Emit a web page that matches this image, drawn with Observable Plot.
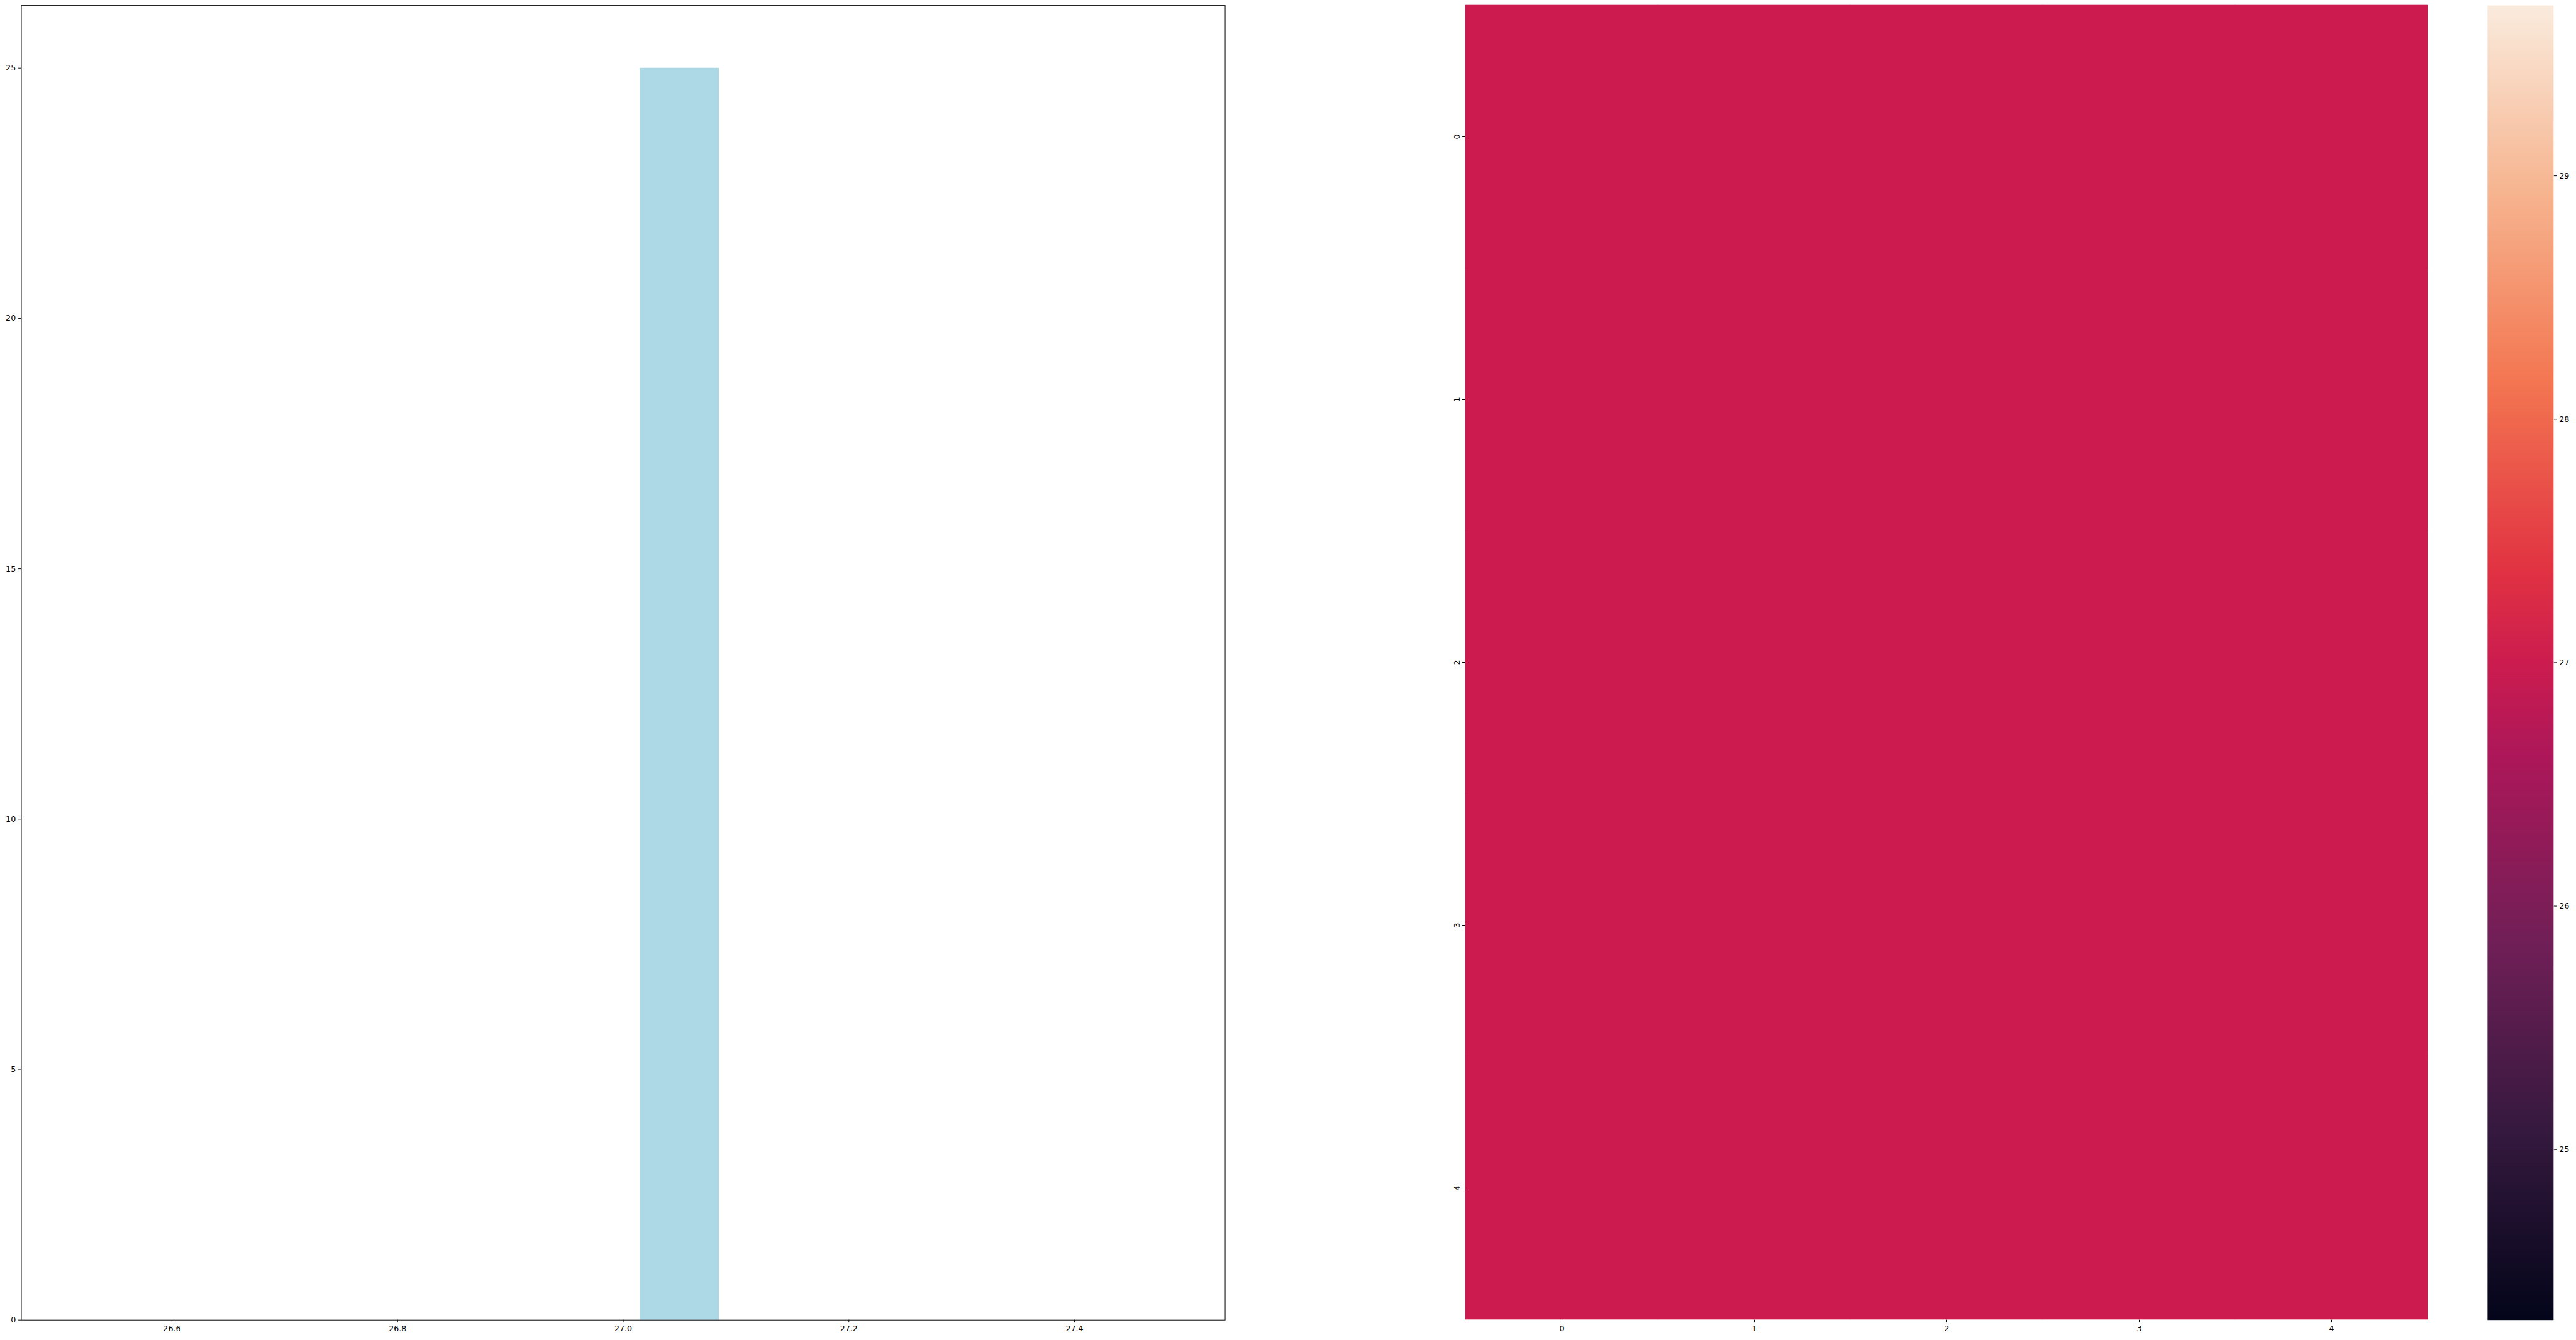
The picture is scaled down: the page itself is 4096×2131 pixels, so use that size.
<!DOCTYPE html>
<html><head><meta charset="utf-8">
<script src="https://cdn.jsdelivr.net/npm/d3@7"></script>
<script src="https://cdn.jsdelivr.net/npm/@observablehq/plot@0.6"></script>
<style>
html,body{margin:0;padding:0;background:#fff;}
#chart{position:relative;width:4096px;height:2131px;overflow:hidden;background:#fff;}
#chart > svg{position:absolute;top:0;}
</style></head><body><div id="chart"></div>
<script>
// ---- Left panel: histogram ----
const binStarts = [26.5, 26.6, 26.7, 26.8, 26.9, 27.0, 27.1, 27.2, 27.3, 27.4];
const binCounts = [0, 0, 0, 0, 0, 25, 0, 0, 0, 0];
const binWidth = 0.1;
const histXDomain = [26.4665, 27.5335];
const histYDomain = [0, 26.25];
const histXTicks = [26.6, 26.8, 27.0, 27.2, 27.4];
const histYTicks = [0, 5, 10, 15, 20, 25];

// ---- Right panel: heatmap ----
const heatRows = [0, 1, 2, 3, 4];
const heatCols = [0, 1, 2, 3, 4];
const heatValues = [
  [27, 27, 27, 27, 27],
  [27, 27, 27, 27, 27],
  [27, 27, 27, 27, 27],
  [27, 27, 27, 27, 27],
  [27, 27, 27, 27, 27]
];
const colorDomain = [24.3, 29.7];
const colorbarTicks = [25, 26, 27, 28, 29];
const rocketStops = [0, 0.143, 0.286, 0.429, 0.5, 0.571, 0.714, 0.857, 1];
const rocketColors = ["#03051a", "#35193e", "#701f57", "#ad1759", "#cc1c4f", "#e13342", "#f37651", "#f6b48f", "#faebdd"];

const S = 0.905;
const FONT = 14 * S;
const TICK = 4.86 * S;
const PAD = 4.86 * S;
const H = 2131;
const mTop = 9 * S, mBottom = H - 2319 * S;
const baseStyle = {fontFamily: "DejaVu Sans", fontSize: FONT + "px", color: "black", background: "transparent", overflow: "visible"};
const chart = document.getElementById("chart");

function place(svg, left) {
  svg.style.left = left + "px";
  chart.appendChild(svg);
}

// Histogram
const rwidth = 0.7;
const bins = binStarts.map((s, i) => ({start: s, count: binCounts[i]}));
const histLeft = 0, histW = 1980;
const hist = Plot.plot({
  width: histW, height: H,
  marginLeft: 37 * S - histLeft, marginRight: histW - 2152 * S,
  marginTop: mTop, marginBottom: mBottom,
  style: baseStyle,
  x: {type: "linear", domain: histXDomain, label: null},
  y: {type: "linear", domain: histYDomain, label: null},
  marks: [
    Plot.rectY(bins, {
      x1: d => d.start + binWidth * (1 - rwidth) / 2,
      x2: d => d.start + binWidth * (1 + rwidth) / 2,
      y1: 0, y2: "count", fill: "#add8e6", inset: 0
    }),
    Plot.frame({stroke: "black", strokeWidth: 1}),
    Plot.axisX({ticks: histXTicks, tickFormat: d3.format(".1f"), tickSize: TICK, tickPadding: PAD, strokeWidth: 1, label: null}),
    Plot.axisY({ticks: histYTicks, tickFormat: d3.format("d"), tickSize: TICK, tickPadding: PAD, strokeWidth: 1, label: null})
  ]
});
place(hist, histLeft);

// Heatmap
const cells = heatRows.flatMap((r, i) => heatCols.map((c, j) => ({row: r, col: c, value: heatValues[i][j]})));
const colorScale = {
  type: "linear",
  domain: rocketStops.map(t => colorDomain[0] + t * (colorDomain[1] - colorDomain[0])),
  range: rocketColors,
  interpolate: "rgb",
  clamp: true
};
const heatLeft = 2250, heatW = 1650;
const heat = Plot.plot({
  width: heatW, height: H,
  marginLeft: 2574 * S - heatLeft, marginRight: heatLeft + heatW - 4265 * S,
  marginTop: mTop, marginBottom: mBottom,
  style: baseStyle,
  x: {type: "band", domain: heatCols, padding: 0, label: null},
  y: {type: "band", domain: heatRows, padding: 0, label: null},
  color: colorScale,
  marks: [
    Plot.cell(cells, {x: "col", y: "row", fill: "value", stroke: "value", strokeWidth: 0.6, inset: 0}),
    Plot.axisX({tickSize: TICK, tickPadding: PAD, strokeWidth: 1, label: null}),
    Plot.axisY({tickSize: TICK, tickPadding: PAD, strokeWidth: 1, tickRotate: -90, label: null})
  ]
});
place(heat, heatLeft);

// Colorbar
const cbLeft = 3930, cbW = 166;
const cb = Plot.plot({
  width: cbW, height: H,
  marginLeft: 4370 * S - cbLeft, marginRight: cbLeft + cbW - 4486 * S,
  marginTop: mTop, marginBottom: mBottom,
  style: baseStyle,
  x: {type: "linear", domain: [0, 1], axis: null},
  y: {type: "linear", domain: colorDomain, label: null},
  color: colorScale,
  marks: [
    Plot.raster({x1: 0, x2: 1, y1: colorDomain[0], y2: colorDomain[1], fill: (x, y) => y, width: 2, height: 1024, imageRendering: "auto"}),
    Plot.axisY({anchor: "right", ticks: colorbarTicks, tickFormat: d3.format("d"), tickSize: TICK, tickPadding: PAD, strokeWidth: 1, label: null})
  ]
});
place(cb, cbLeft);
</script></body></html>
